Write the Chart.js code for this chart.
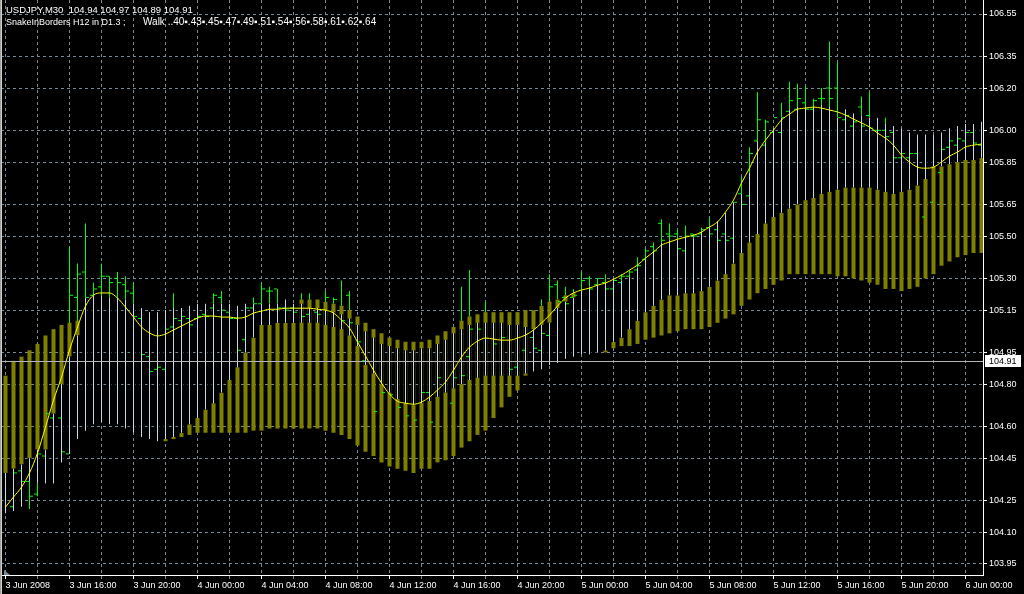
<!DOCTYPE html>
<html>
<head>
<meta charset="utf-8">
<script src="https://cdn.jsdelivr.net/npm/chart.js@4/dist/chart.umd.min.js"></script>
<style>
  html, body { margin: 0; padding: 0; background: #000; }
  #wrap { position: relative; width: 1024px; height: 594px; }
</style>
</head>
<body>
<div id="wrap"><canvas id="chart"></canvas></div>
<script>
// USDJPY M30 with the SnakeInBorders indicator, one value per half-hour bar
const timeLabels = ['3 Jun 2008', '3 Jun 16:00', '3 Jun 20:00', '4 Jun 00:00', '4 Jun 04:00',
  '4 Jun 08:00', '4 Jun 12:00', '4 Jun 16:00', '4 Jun 20:00', '5 Jun 00:00', '5 Jun 04:00',
  '5 Jun 08:00', '5 Jun 12:00', '5 Jun 16:00', '5 Jun 20:00', '6 Jun 00:00'];
const priceTicks = [106.55, 106.35, 106.20, 106.00, 105.85, 105.65, 105.50, 105.30,
  105.15, 104.95, 104.80, 104.60, 104.45, 104.25, 104.10, 103.95];
const bid = 104.91;

// yellow snake line
const snake = [
  104.219, 104.266, 104.313, 104.380, 104.474, 104.597, 104.724, 104.833, 104.961, 105.070,
  105.169, 105.221, 105.231, 105.231, 105.207, 105.164, 105.117, 105.070, 105.042, 105.028,
  105.037, 105.056, 105.075, 105.094, 105.112, 105.122, 105.122, 105.117, 105.117, 105.112,
  105.117, 105.136, 105.145, 105.154, 105.154, 105.159, 105.159, 105.159, 105.159, 105.154,
  105.150, 105.136, 105.103, 105.065, 104.999, 104.933, 104.866, 104.805, 104.753, 104.719,
  104.710, 104.705, 104.715, 104.739, 104.772, 104.810, 104.866, 104.928, 104.975, 105.003,
  105.018, 105.013, 105.008, 105.008, 105.018, 105.032, 105.056, 105.089, 105.126, 105.169,
  105.207, 105.231, 105.245, 105.254, 105.268, 105.278, 105.296, 105.315, 105.339, 105.363,
  105.396, 105.425, 105.457, 105.472, 105.485, 105.495, 105.504, 105.519, 105.543, 105.567,
  105.614, 105.670, 105.751, 105.821, 105.898, 105.954, 106.001, 106.049, 106.077, 106.100,
  106.105, 106.110, 106.105, 106.096, 106.087, 106.072, 106.053, 106.035, 106.016, 105.987,
  105.963, 105.930, 105.883, 105.850, 105.826, 105.821, 105.826, 105.850, 105.878, 105.897,
  105.921, 105.930, 105.935];

// olive border band
const bandTop = [
  104.84, 104.91, 104.93, 104.96, 104.99, 105.03, 105.06, 105.08, 105.09, 105.10,
  null, null, null, null, null, null, null, null, null, null,
  104.54, 104.55, 104.57, 104.61, 104.64, 104.68, 104.71, 104.76, 104.82, 104.88,
  104.95, 105.02, 105.08, 105.08, 105.09, 105.09, 105.09, 105.20, 105.20, 105.20,
  105.19, 105.18, 105.17, 105.15, 105.12, 105.09, 105.06, 105.04, 105.02, 105.01,
  105.00, 105.00, 105.00, 105.01, 105.03, 105.05, 105.07, 105.10, 105.12, 105.13,
  105.14, 105.14, 105.14, 105.14, 105.14, 105.15, 105.15, 105.17, 105.19, 105.20,
  105.22, 105.23, null, null, null, 104.96, 105.00, 105.02, 105.06, 105.10,
  105.14, 105.17, 105.20, 105.22, 105.22, 105.23, 105.23, 105.24, 105.26, 105.29,
  105.32, 105.37, 105.42, 105.47, 105.51, 105.56, 105.59, 105.61, 105.63, 105.65,
  105.67, 105.68, 105.70, 105.71, 105.72, 105.73, 105.73, 105.73, 105.73, 105.72,
  105.71, 105.70, 105.71, 105.72, 105.74, 105.77, 105.83, 105.83, 105.84, 105.85,
  105.86, 105.86, 105.87];
const bandBottom = [
  104.38, 104.40, 104.42, 104.45, 104.49, 104.49, 104.66, 104.80, 104.93, 105.03,
  null, null, null, null, null, null, null, null, null, null,
  104.53, 104.54, 104.55, 104.56, 104.57, 104.57, 104.57, 104.57, 104.57, 104.57,
  104.57, 104.58, 104.58, 104.59, 104.59, 104.59, 104.59, 104.59, 104.59, 104.59,
  104.58, 104.57, 104.56, 104.54, 104.51, 104.48, 104.46, 104.43, 104.41, 104.40,
  104.39, 104.38, 104.40, 104.40, 104.43, 104.44, 104.46, 104.50, 104.53, 104.56,
  104.58, 104.64, 104.69, 104.74, 104.77, 104.84, 105.06, 105.08, 105.09, 105.16,
  105.19, 105.21, null, null, null, 104.95, 104.97, 104.98, 104.98, 104.99,
  105.01, 105.02, 105.03, 105.04, 105.05, 105.06, 105.06, 105.06, 105.07, 105.09,
  105.11, 105.13, 105.17, 105.20, 105.23, 105.25, 105.27, 105.29, 105.32, 105.32,
  105.32, 105.32, 105.32, 105.32, 105.31, 105.31, 105.30, 105.29, 105.28, 105.27,
  105.25, 105.25, 105.24, 105.25, 105.26, 105.30, 105.32, 105.36, 105.38, 105.40,
  105.41, 105.42, 105.42];

// light blue walk range (cuts through the band)
const walkTop = [
  104.38, 104.40, 104.42, 104.45, 104.49, 104.49, 104.66, 104.80, 104.93, 105.03,
  105.21, 105.22, 105.22, 105.21, 105.21, 105.20, 105.18, 105.16, 105.14, 105.14,
  105.15, 105.16, 105.16, 105.17, 105.18, 105.18, 105.18, 105.18, 105.18, 105.17,
  105.18, 105.18, 105.18, 105.18, 105.18, 105.20, 105.18, 105.18, 105.16, 105.16,
  105.15, 105.14, 105.13, 105.11, 105.08, 105.05, 105.02, 104.99, 104.98, 104.97,
  104.96, 104.96, 104.97, 104.97, 104.99, 105.01, 105.04, 105.06, 105.08, 105.09,
  105.09, 105.09, 105.09, 105.08, 105.08, 105.07, 105.06, 105.08, 105.09, 105.16,
  105.19, 105.21, 105.24, 105.26, 105.27, 105.28, 105.30, 105.29, 105.31, 105.35,
  105.39, 105.43, 105.47, 105.48, 105.48, 105.50, 105.49, 105.52, 105.54, 105.57,
  105.61, 105.66, 105.70, 105.80, 105.95, 105.94, 106.01, 106.06, 106.10, 106.11,
  106.11, 106.11, 106.12, 106.11, 106.06, 106.10, 106.08, 106.07, 106.06, 106.06,
  106.03, 106.02, 106.01, 105.99, 105.98, 105.98, 105.98, 105.99, 106.01, 106.02,
  106.03, 106.03, 106.04];
const walkBottom = [
  104.19, 104.20, 104.22, 104.34, 104.33, 104.33, 104.33, 104.43, 104.47, 104.54,
  104.58, 104.61, 104.62, 104.61, 104.61, 104.59, 104.57, 104.55, 104.54, 104.53,
  104.54, 104.55, 104.57, 104.61, 104.64, 104.68, 104.71, 104.76, 104.82, 104.88,
  104.95, 105.02, 105.08, 105.08, 105.09, 105.09, 105.09, 105.09, 105.09, 105.09,
  105.08, 105.07, 105.06, 105.03, 104.98, 104.89, 104.85, 104.80, 104.76, 104.73,
  104.71, 104.70, 104.71, 104.72, 104.74, 104.76, 104.78, 104.80, 104.82, 104.83,
  104.84, 104.84, 104.84, 104.84, 104.84, 104.85, 104.86, 104.87, 104.89, 104.90,
  104.92, 104.93, 104.94, 104.94, 104.95, 104.96, 105.00, 105.02, 105.06, 105.10,
  105.14, 105.17, 105.20, 105.22, 105.22, 105.23, 105.23, 105.24, 105.26, 105.29,
  105.32, 105.37, 105.42, 105.47, 105.51, 105.56, 105.59, 105.61, 105.63, 105.65,
  105.67, 105.68, 105.70, 105.71, 105.72, 105.73, 105.73, 105.73, 105.73, 105.72,
  105.71, 105.70, 105.71, 105.72, 105.74, 105.77, 105.83, 105.83, 105.84, 105.85,
  105.86, 105.86, 105.87];

// green bars (only where they show)
const greenHigh = [
  null, null, null, 104.45, 104.49, null, null, null, 105.45, 105.37,
  105.56, 105.28, 105.37, 105.31, 105.33, 105.31, 105.28, null, null, null,
  null, 105.23, null, null, null, null, 105.23, 105.24, null, null,
  null, 105.21, 105.28, 105.26, 105.25, null, null, 105.23, 105.23, null,
  105.24, 105.21, 105.29, 105.24, null, null, null, null, null, null,
  null, null, null, null, null, null, null, 105.26, 105.34, null,
  105.19, null, null, null, null, null, null, 105.20, 105.32, 105.29,
  105.26, 105.25, 105.33, 105.31, 105.30, 105.32, null, 105.32, 105.34, 105.40,
  105.44, 105.47, 105.58, 105.56, 105.53, 105.55, 105.51, 105.54, 105.59, null,
  null, null, 105.78, 105.92, 106.18, 106.05, null, 106.13, 106.23, 106.22,
  106.21, 106.15, 106.20, 106.42, 106.32, null, null, 106.16, 106.18, null,
  106.06, null, null, null, null, null, null, null, null, null,
  null, null, null];
const greenLow = [
  null, null, null, 104.21, 104.27, null, null, null, 104.93, 105.03,
  105.21, 105.22, 105.22, 105.21, 105.21, 105.20, 105.18, null, null, null,
  null, 105.16, null, null, null, null, 105.18, 105.18, null, null,
  null, 105.18, 105.18, 105.18, 105.18, null, null, 105.20, 105.20, null,
  105.19, 105.18, 105.17, 105.15, null, null, null, null, null, null,
  null, null, null, null, null, null, null, 105.10, 105.12, null,
  105.14, null, null, null, null, null, null, 105.17, 105.19, 105.20,
  105.22, 105.23, 105.24, 105.26, 105.27, 105.28, null, 105.29, 105.31, 105.35,
  105.39, 105.43, 105.47, 105.48, 105.48, 105.50, 105.49, 105.52, 105.54, null,
  null, null, 105.70, 105.80, 105.95, 105.94, null, 106.06, 106.10, 106.11,
  106.11, 106.11, 106.12, 106.11, 106.06, null, null, 106.07, 106.06, null,
  106.03, null, null, null, null, null, null, null, null, null,
  null, null, null];
const opens = [
  null, 104.22, 104.39, 104.34, 104.28, 104.46, 104.64, 104.64, 104.47, 105.21,
  105.33, 105.22, 105.26, 105.31, 105.30, 105.27, 105.23, 105.11, 104.93, 104.87,
  104.87, 105.07, 105.10, 105.11, 105.11, 105.13, 105.16, 105.21, 105.14, 105.11,
  105.01, 105.16, 105.18, 105.24, 105.25, 105.16, 105.16, null, 105.13, 105.14,
  null, null, null, 105.22, null, 104.91, null, null, null, null,
  null, null, null, 104.76, null, null, 104.71, null, 104.93, null,
  null, null, null, null, 104.88, 104.96, 105.02, 104.96, 105.03, 105.27,
  105.21, 105.21, null, 105.30, 105.27, 105.28, 105.25, 105.28, 105.31, 105.34,
  105.39, 105.45, 105.56, 105.51, 105.51, 105.43, 105.51, 105.51, 105.54, 105.53,
  105.51, 105.49, 105.70, 105.69, 105.95, 105.93, 105.99, 105.99, 106.09, 106.10,
  106.13, 106.10, 106.15, 106.20, 106.20, 106.05, 106.02, 106.11, 106.07, 106.00,
  106.00, 105.99, 105.87, 105.87, 105.89, 105.59, 105.66, 105.80, 105.92, 105.93,
  105.95, 105.99, 105.93];
const closes = [
  null, 104.38, 104.34, 104.27, 104.47, 104.66, null, 104.48, 105.22, 105.32,
  105.21, 105.25, 105.31, 105.28, 105.28, 105.24, 105.12, 104.94, 104.86, 104.88,
  105.06, 105.11, 105.12, 105.08, 105.12, 105.12, 105.22, 105.15, 105.11, 104.96,
  105.16, 105.18, 105.25, 105.24, 105.16, 105.15, 105.14, 105.12, null, 105.13,
  105.21, 105.20, 105.10, 105.09, 105.00, null, 104.67, 104.76, 104.75, 104.69,
  104.65, 104.63, 104.76, 104.62, 104.83, null, 104.83, 104.84, 105.06, 105.06,
  null, 104.99, 105.02, 104.87, null, null, 104.97, 105.04, 105.26, 105.19,
  105.18, 105.22, 105.29, 105.25, 105.30, 105.25, 105.29, 105.31, 105.33, 105.36,
  105.43, 105.43, 105.48, 105.50, 105.44, 105.50, 105.50, 105.53, 105.51, 105.48,
  105.48, 105.66, 105.65, 105.89, 106.05, 106.04, 106.06, 106.06, 106.14, 106.15,
  106.10, 106.14, 106.15, 106.15, 106.06, 106.07, 106.04, 106.02, 106.01, 106.00,
  105.97, 105.87, 105.89, 105.89, null, null, null, 105.91, 105.95, 105.96,
  105.99, 105.94, null];

const barsPerLabel = 8;   // 4 hours of M30 bars between time labels
const yMin = 103.8975, yMax = 106.6162;
const FONT = '"Liberation Sans", Arial, sans-serif';

const ranges = (lo, hi) => lo.map((v, i) => (v == null || hi[i] == null) ? null : {x: i, y: [v, hi[i]]}).filter(Boolean);
const points = (vals, dx) => vals.map((v, i) => v == null ? null : {x: i + dx, y: v}).filter(Boolean);
const barStyle = {type: 'bar', grouped: false, borderWidth: 0, inflateAmount: 0};

const overlay = {
  id: 'overlay',
  afterDatasetsDraw(chart) {
    const {ctx, chartArea: a} = chart;
    const py = Math.round(chart.scales.y.getPixelForValue(bid)) + 0.5;
    ctx.save();
    ctx.strokeStyle = '#b4b4b4';
    ctx.lineWidth = 1;
    ctx.beginPath();
    ctx.moveTo(a.left, py);
    ctx.lineTo(a.right, py);
    ctx.stroke();
    ctx.restore();
  },
  afterDraw(chart) {
    const {ctx, chartArea: a} = chart;
    const py = Math.round(chart.scales.y.getPixelForValue(bid));
    ctx.save();
    // price box on the axis
    ctx.fillStyle = '#ffffff';
    ctx.fillRect(a.right + 2, py - 6, 36, 12);
    ctx.fillStyle = '#000000';
    ctx.font = '9px ' + FONT;
    ctx.textBaseline = 'middle';
    ctx.fillText(bid.toFixed(2), a.right + 6, py + 0.5);
    // header
    ctx.fillStyle = '#ffffff';
    ctx.textBaseline = 'alphabetic';
    ctx.font = '9.5px ' + FONT;
    ctx.fillText('USDJPY,M30  104.94 104.97 104.89 104.91', 6, 13);
    ctx.font = '9px ' + FONT;
    ctx.fillText('SnakeInBorders H12 in D1.3 ;', 6, 25);
    ctx.font = '10px ' + FONT;
    ctx.fillText('Walk ..40\u25AA.43\u25AA.45\u25AA.47\u25AA.49\u25AA.51\u25AA.54\u25AA.56\u25AA.58\u25AA.61\u25AA.62\u25AA.64', 143, 25);
    // window frame and shift marker
    ctx.fillStyle = '#a0a0a0';
    ctx.fillRect(0, 0, 1, 594);
    ctx.fillStyle = '#d4d0c8';
    ctx.fillRect(1, 0, 1, 594);
    ctx.fillStyle = '#778899';
    ctx.beginPath();
    ctx.moveTo(4, 570);
    ctx.lineTo(4, 575);
    ctx.lineTo(10, 575);
    ctx.closePath();
    ctx.fill();
    ctx.restore();
  }
};

new Chart(document.getElementById('chart'), {
  type: 'bar',
  data: {
    datasets: [
      {type: 'line', data: points(snake, 0), borderColor: '#ffff00', borderWidth: 1,
        pointRadius: 0, cubicInterpolationMode: 'monotone', order: 0},
      {type: 'scatter', data: points(opens, -0.25), pointStyle: 'line', pointRadius: 1.5,
        pointHoverRadius: 0, borderColor: '#00ff00', backgroundColor: '#00ff00', borderWidth: 1, order: 1},
      {type: 'scatter', data: points(closes, 0.25), pointStyle: 'line', pointRadius: 1.5,
        pointHoverRadius: 0, borderColor: '#00ff00', backgroundColor: '#00ff00', borderWidth: 1, order: 1},
      {...barStyle, data: ranges(walkBottom, walkTop), barThickness: 1, backgroundColor: '#c4d8ec', order: 2},
      {...barStyle, data: ranges(walkBottom, walkTop), barThickness: 4, backgroundColor: '#000000', order: 3},
      {...barStyle, data: ranges(bandBottom, bandTop), barThickness: 4, backgroundColor: '#808000', order: 4},
      {...barStyle, data: ranges(greenLow, greenHigh), barThickness: 1, backgroundColor: '#00ff00', order: 5}
    ]
  },
  options: {
    responsive: true,
    maintainAspectRatio: false,
    devicePixelRatio: 1,
    animation: false,
    events: [],
    layout: {autoPadding: false, padding: {left: 1, top: 0, right: 0, bottom: 0}},
    plugins: {legend: {display: false}, tooltip: {enabled: false}},
    scales: {
      x: {
        type: 'linear',
        min: -0.5625,
        max: 122.1875,
        offset: false,
        grid: {
          offset: false,
          color: '#778899',
          tickLength: 4,
          tickBorderDash: [],
          tickColor: (c) => (c.index % 2 === 0 ? '#ffffff' : '#778899')
        },
        border: {display: true, color: '#ffffff', width: 1, dash: [3, 3]},
        ticks: {
          color: '#ffffff',
          font: {family: FONT, size: 9},
          padding: 1,
          autoSkip: false,
          maxRotation: 0,
          minRotation: 0,
          align: 'start',
          callback: (v) => (v % barsPerLabel === 0 ? timeLabels[v / barsPerLabel] : '')
        },
        afterBuildTicks: (s) => {
          s.ticks = [];
          for (let i = 0; i < timeLabels.length * 2 - 1; i++) s.ticks.push({value: i * barsPerLabel / 2});
        },
        afterFit: (s) => { s.height = 19; s.paddingLeft = 0; s.paddingRight = 0; }
      },
      y: {
        type: 'linear',
        position: 'right',
        min: yMin,
        max: yMax,
        beginAtZero: false,
        grid: {color: '#778899', tickLength: 4, tickBorderDash: [], tickColor: '#ffffff'},
        border: {display: true, color: '#ffffff', width: 1, dash: [3, 3]},
        ticks: {
          color: '#ffffff',
          font: {family: FONT, size: 9},
          padding: 2,
          autoSkip: false,
          callback: (v) => Number(v).toFixed(2)
        },
        afterBuildTicks: (s) => { s.ticks = priceTicks.map((v) => ({value: v})); },
        afterFit: (s) => { s.width = 41; s.paddingTop = 0; s.paddingBottom = 0; }
      }
    }
  },
  plugins: [overlay]
});
</script>
</body>
</html>
